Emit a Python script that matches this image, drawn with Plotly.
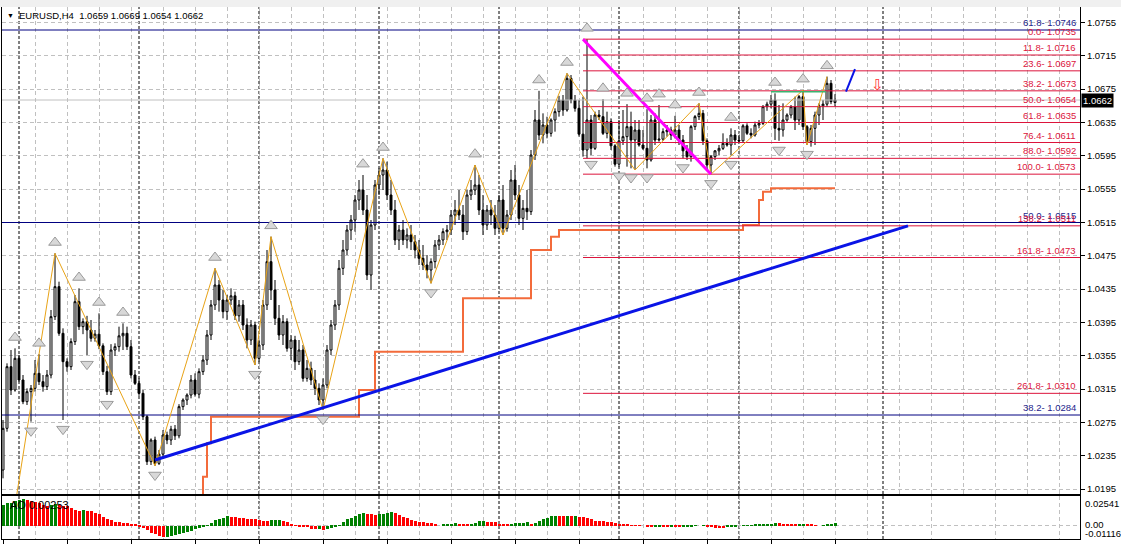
import plotly.graph_objects as go

# ---------------- data (EURUSD H4) ----------------
bars = list(range(209))
opens = [
 1.0218,1.0268,1.0342,1.0314,1.0352,1.0326,1.0300,1.0312,1.0316,1.0334,
 1.0324,1.0318,1.0332,1.0402,1.0438,1.0382,1.0348,1.0342,1.0372,1.0420,
 1.0390,1.0396,1.0386,1.0376,1.0381,1.0367,1.0336,1.0312,1.0362,1.0366,
 1.0379,1.0382,1.0366,1.0332,1.0322,1.0310,1.0282,1.0228,1.0254,1.0226,
 1.0237,1.0260,1.0254,1.0267,1.0259,1.0294,1.0302,1.0308,1.0326,1.0309,
 1.0336,1.0350,1.0380,1.0416,1.0440,1.0422,1.0408,1.0422,1.0427,1.0403,
 1.0416,1.0392,1.0374,1.0392,1.0352,1.0368,1.0416,1.0468,1.0434,1.0400,
 1.0380,1.0396,1.0364,1.0374,1.0348,1.0362,1.0328,1.0340,1.0326,1.0316,
 1.0302,1.0320,1.0362,1.0392,1.0416,1.0460,1.0482,1.0506,1.0518,1.0542,
 1.0554,1.0530,1.0452,1.0512,1.0560,1.0572,1.0578,1.0548,1.0530,1.0494,
 1.0506,1.0494,1.0500,1.0492,1.0482,1.0472,1.0464,1.0458,1.0468,1.0488,
 1.0494,1.0504,1.0506,1.0524,1.0530,1.0524,1.0504,1.0548,1.0554,1.0560,
 1.0530,1.0512,1.0530,1.0524,1.0508,1.0542,1.0508,1.0524,1.0566,1.0548,
 1.0520,1.0532,1.0528,1.0596,1.0638,1.0620,1.0632,1.0622,1.0638,1.0648,
 1.0662,1.0650,1.0688,1.0662,1.0652,1.0621,1.0602,1.0638,1.0604,1.0644,
 1.0642,1.0622,1.0636,1.0607,1.0585,1.0613,1.0618,1.0630,1.0614,1.0626,
 1.0608,1.0604,1.0590,1.0638,1.0614,1.0615,1.0624,1.0626,1.0620,1.0626,
 1.0614,1.0601,1.0594,1.0630,1.0642,1.0646,1.0613,1.0584,1.0594,1.0601,
 1.0604,1.0610,1.0608,1.0620,1.0614,1.0613,1.0631,1.0622,1.0620,1.0632,
 1.0634,1.0654,1.0657,1.0662,1.0628,1.0626,1.0638,1.0644,1.0654,1.0638,
 1.0666,1.0630,1.0612,1.0628,1.0644,1.0655,1.0657,1.0682,1.0659]
highs = [
 1.0278,1.0346,1.0362,1.0364,1.0356,1.0332,1.0316,1.0320,1.0350,1.0357,
 1.0332,1.0338,1.0410,1.0478,1.0444,1.0388,1.0352,1.0376,1.0428,1.0436,
 1.0400,1.0403,1.0398,1.0386,1.0406,1.0370,1.0343,1.0369,1.0370,1.0390,
 1.0394,1.0390,1.0374,1.0338,1.0328,1.0314,1.0284,1.0256,1.0258,1.0242,
 1.0266,1.0264,1.0271,1.0272,1.0297,1.0304,1.0310,1.0332,1.0334,1.0340,
 1.0356,1.0386,1.0422,1.0460,1.0446,1.0434,1.0428,1.0436,1.0432,1.0422,
 1.0422,1.0400,1.0398,1.0396,1.0374,1.0422,1.0482,1.0498,1.0446,1.0416,
 1.0404,1.0400,1.0380,1.0379,1.0374,1.0368,1.0350,1.0348,1.0338,1.0322,
 1.0328,1.0368,1.0398,1.0422,1.0470,1.0494,1.0512,1.0524,1.0548,1.0566,
 1.0572,1.0548,1.0518,1.0566,1.0580,1.0592,1.0588,1.0566,1.0542,1.0512,
 1.0518,1.0508,1.0512,1.0500,1.0494,1.0488,1.0476,1.0472,1.0494,1.0500,
 1.0508,1.0512,1.0530,1.0542,1.0554,1.0536,1.0554,1.0566,1.0584,1.0572,
 1.0548,1.0536,1.0542,1.0536,1.0548,1.0560,1.0530,1.0578,1.0584,1.0560,
 1.0542,1.0554,1.0602,1.0650,1.0673,1.0646,1.0642,1.0640,1.0652,1.0667,
 1.0668,1.0694,1.0692,1.0668,1.0662,1.0666,1.0735,1.0644,1.0648,1.0650,
 1.0663,1.0648,1.0640,1.0609,1.0638,1.0650,1.0657,1.0648,1.0638,1.0638,
 1.0626,1.0651,1.0644,1.0646,1.0656,1.0628,1.0632,1.0630,1.0643,1.0632,
 1.0620,1.0608,1.0632,1.0644,1.0658,1.0650,1.0616,1.0596,1.0602,1.0608,
 1.0622,1.0616,1.0628,1.0626,1.0620,1.0633,1.0634,1.0628,1.0636,1.0638,
 1.0656,1.0660,1.0668,1.0670,1.0656,1.0658,1.0646,1.0656,1.0666,1.0668,
 1.0674,1.0632,1.0632,1.0648,1.0658,1.0662,1.0690,1.0686,1.0669]
lows = [
 1.0208,1.0264,1.0308,1.0312,1.0324,1.0297,1.0296,1.0276,1.0312,1.0320,
 1.0312,1.0314,1.0328,1.0398,1.0379,1.0278,1.0336,1.0338,1.0368,1.0386,
 1.0381,1.0356,1.0372,1.0372,1.0363,1.0332,1.0308,1.0308,1.0355,1.0360,
 1.0362,1.0362,1.0328,1.0320,1.0307,1.0278,1.0224,1.0224,1.0223,1.0224,
 1.0232,1.0249,1.0248,1.0254,1.0256,1.0290,1.0296,1.0304,1.0306,1.0304,
 1.0332,1.0344,1.0374,1.0410,1.0408,1.0400,1.0398,1.0416,1.0398,1.0396,
 1.0386,1.0364,1.0368,1.0344,1.0348,1.0362,1.0410,1.0422,1.0392,1.0374,
 1.0368,1.0360,1.0350,1.0338,1.0344,1.0324,1.0324,1.0320,1.0308,1.0296,
 1.0290,1.0316,1.0356,1.0386,1.0410,1.0452,1.0476,1.0494,1.0504,1.0530,
 1.0524,1.0446,1.0434,1.0506,1.0548,1.0554,1.0542,1.0524,1.0488,1.0482,
 1.0488,1.0484,1.0482,1.0472,1.0464,1.0458,1.0448,1.0442,1.0460,1.0482,
 1.0488,1.0494,1.0500,1.0512,1.0518,1.0494,1.0500,1.0542,1.0548,1.0524,
 1.0500,1.0506,1.0512,1.0500,1.0504,1.0500,1.0504,1.0518,1.0542,1.0512,
 1.0506,1.0518,1.0524,1.0590,1.0614,1.0610,1.0616,1.0618,1.0624,1.0642,
 1.0643,1.0648,1.0658,1.0648,1.0618,1.0594,1.0592,1.0596,1.0602,1.0638,
 1.0620,1.0616,1.0602,1.0582,1.0582,1.0608,1.0582,1.0580,1.0578,1.0606,
 1.0602,1.0580,1.0588,1.0608,1.0612,1.0613,1.0618,1.0614,1.0616,1.0608,
 1.0592,1.0590,1.0588,1.0626,1.0638,1.0608,1.0578,1.0573,1.0590,1.0596,
 1.0602,1.0606,1.0596,1.0608,1.0610,1.0612,1.0620,1.0616,1.0618,1.0628,
 1.0632,1.0649,1.0652,1.0614,1.0613,1.0618,1.0636,1.0640,1.0626,1.0632,
 1.0626,1.0608,1.0606,1.0608,1.0632,1.0638,1.0654,1.0657,1.0654]
closes = [
 1.0268,1.0342,1.0314,1.0352,1.0326,1.0300,1.0312,1.0316,1.0334,1.0324,
 1.0318,1.0332,1.0402,1.0438,1.0382,1.0348,1.0342,1.0372,1.0420,1.0390,
 1.0396,1.0386,1.0376,1.0381,1.0367,1.0336,1.0312,1.0362,1.0366,1.0379,
 1.0382,1.0366,1.0332,1.0322,1.0310,1.0282,1.0228,1.0254,1.0226,1.0237,
 1.0260,1.0254,1.0267,1.0259,1.0294,1.0302,1.0308,1.0326,1.0309,1.0336,
 1.0350,1.0380,1.0416,1.0440,1.0422,1.0408,1.0422,1.0427,1.0403,1.0416,
 1.0392,1.0374,1.0392,1.0352,1.0368,1.0416,1.0468,1.0434,1.0400,1.0380,
 1.0396,1.0364,1.0374,1.0348,1.0362,1.0328,1.0340,1.0326,1.0316,1.0302,
 1.0320,1.0362,1.0392,1.0416,1.0460,1.0482,1.0506,1.0518,1.0542,1.0554,
 1.0530,1.0452,1.0512,1.0560,1.0572,1.0578,1.0548,1.0530,1.0494,1.0506,
 1.0494,1.0500,1.0492,1.0482,1.0472,1.0464,1.0458,1.0468,1.0488,1.0494,
 1.0504,1.0506,1.0524,1.0530,1.0524,1.0504,1.0548,1.0554,1.0560,1.0530,
 1.0512,1.0530,1.0524,1.0508,1.0542,1.0508,1.0524,1.0566,1.0548,1.0520,
 1.0532,1.0528,1.0596,1.0638,1.0620,1.0632,1.0622,1.0638,1.0648,1.0662,
 1.0650,1.0688,1.0662,1.0652,1.0621,1.0602,1.0638,1.0604,1.0644,1.0642,
 1.0622,1.0636,1.0607,1.0585,1.0613,1.0618,1.0630,1.0614,1.0626,1.0608,
 1.0604,1.0590,1.0638,1.0614,1.0615,1.0624,1.0626,1.0620,1.0626,1.0614,
 1.0601,1.0594,1.0630,1.0642,1.0646,1.0613,1.0584,1.0594,1.0601,1.0604,
 1.0610,1.0608,1.0620,1.0614,1.0613,1.0631,1.0622,1.0620,1.0632,1.0634,
 1.0654,1.0657,1.0662,1.0628,1.0626,1.0638,1.0644,1.0654,1.0638,1.0666,
 1.0630,1.0612,1.0628,1.0644,1.0655,1.0657,1.0682,1.0660,1.0662]

ao_values = [
 0.0178,0.0193,0.0198,0.0213,0.0221,0.0229,0.0221,0.0213,0.0207,0.0193,
 0.0178,0.0173,0.0178,0.0187,0.0178,0.0173,0.0170,0.0156,0.0136,0.0130,
 0.0136,0.0127,0.0125,0.0113,0.0102,0.0079,0.0062,0.0051,0.0037,0.0031,
 0.0028,0.0025,0.0020,0.0011,-0.0006,-0.0020,-0.0034,-0.0057,-0.0071,-0.0085,
 -0.0096,-0.0091,-0.0085,-0.0076,-0.0071,-0.0062,-0.0051,-0.0042,-0.0028,-0.0014,
 -0.0006,0.0006,0.0025,0.0051,0.0062,0.0071,0.0085,0.0079,0.0076,0.0071,
 0.0068,0.0062,0.0059,0.0057,0.0051,0.0045,0.0042,0.0048,0.0051,0.0054,
 0.0042,0.0037,0.0011,0.0006,-0.0006,-0.0008,-0.0011,-0.0023,-0.0028,-0.0025,
 -0.0031,-0.0023,-0.0014,-0.0006,0.0006,0.0034,0.0057,0.0065,0.0085,0.0099,
 0.0110,0.0102,0.0099,0.0093,0.0099,0.0102,0.0108,0.0119,0.0108,0.0093,
 0.0079,0.0065,0.0051,0.0042,0.0037,0.0034,0.0028,0.0023,0.0014,0.0000,
 0.0008,0.0011,0.0020,0.0021,0.0011,0.0010,0.0008,0.0017,0.0028,0.0040,
 0.0045,0.0037,0.0036,0.0034,0.0017,0.0011,0.0010,0.0020,0.0021,0.0025,
 0.0028,0.0030,0.0020,0.0028,0.0045,0.0057,0.0071,0.0085,0.0088,0.0085,
 0.0084,0.0088,0.0085,0.0086,0.0079,0.0074,0.0065,0.0059,0.0045,0.0044,
 0.0043,0.0037,0.0034,0.0028,0.0020,0.0014,0.0011,0.0003,0.0001,-0.0001,
 0.0000,-0.0006,-0.0007,-0.0006,-0.0004,-0.0006,-0.0007,-0.0006,-0.0007,-0.0008,
 -0.0006,-0.0004,-0.0003,-0.0001,0.0000,0.0001,-0.0006,-0.0008,-0.0014,-0.0017,
 -0.0018,-0.0011,-0.0006,-0.0003,0.0000,0.0001,0.0003,0.0006,0.0008,0.0010,
 0.0011,0.0014,0.0017,0.0023,0.0021,0.0020,0.0017,0.0014,0.0013,0.0014,
 0.0016,0.0011,0.0008,0.0003,0.0000,0.0006,0.0011,0.0017,0.00253]

zigzag_bars = [3, 13, 38, 53, 63, 67, 80, 95, 107, 118, 125, 141, 158, 174, 177, 200, 201, 206]
zigzag_prices = [1.0175, 1.0478, 1.0223, 1.0460, 1.0344, 1.0498, 1.0290, 1.0592, 1.0442,
                 1.0584, 1.0500, 1.0694, 1.0578, 1.0658, 1.0573, 1.0674, 1.0608, 1.0690]

fractal_up_bars = [3, 9, 13, 19, 24, 30, 53, 67, 90, 95, 118, 134, 141, 146, 150, 156,
                   161, 164, 168, 174, 182, 193, 200, 206]
fractal_down_bars = [7, 15, 21, 26, 38, 63, 80, 107, 147, 154, 157, 161, 170, 177, 182, 194, 201]

stop_bars = [49, 50, 51, 52, 89, 93, 115, 132, 137, 139, 185, 189, 190, 192, 208]
stop_levels = [1.0150, 1.0210, 1.0250, 1.0282, 1.0314, 1.0360, 1.0424, 1.0482, 1.0498,
               1.0506, 1.0512, 1.0542, 1.0552, 1.0556, 1.0556]

fib_ratios = ["0.0", "11.8", "23.6", "38.2", "50.0", "61.8", "76.4", "88.0", "100.0",
              "138.2", "161.8", "261.8"]
fib_prices = [1.0735, 1.0716, 1.0697, 1.0673, 1.0654, 1.0635, 1.0611, 1.0592, 1.0573,
              1.0511, 1.0473, 1.0310]
fib_start_bar = 145

navy_ratios = ["61.8", "50.0", "38.2"]
navy_prices = [1.0746, 1.0515, 1.0284]

trend_bars = [38, 226.25]
trend_prices = [1.0230, 1.0511]
fib_base_bars = [145, 177]
fib_base_prices = [1.0735, 1.0573]
forecast_bars = [210.75, 213]
forecast_prices = [1.0672, 1.0699]
green_bars = [192, 205.75]
green_prices = [1.0672, 1.0672]
arrow_bar, arrow_price = 218.5, 1.0681

separator_bars = [4, 34, 64, 94, 124, 154, 184, 220]
date_label_bars = list(range(0, 209, 16))
date_labels = ["11 Nov 2022", "16 Nov 00:00", "18 Nov 16:00", "23 Nov 08:00", "28 Nov 00:00",
               "30 Nov 16:00", "5 Dec 08:00", "8 Dec 00:00", "12 Dec 16:00", "15 Dec 08:00",
               "20 Dec 00:00", "22 Dec 16:00", "27 Dec 08:00", "30 Dec 00:00"]
price_ticks = [1.0195, 1.0235, 1.0275, 1.0315, 1.0355, 1.0395, 1.0435, 1.0475,
               1.0515, 1.0555, 1.0595, 1.0635, 1.0675, 1.0715, 1.0755]
bid_price = 1.0662
title_text = "EURUSD,H4  1.0659 1.0669 1.0654 1.0662"
ao_label = "AO 0.00253"
ao_max, ao_min = 0.02541, -0.01116

# ---------------- layout constants ----------------
X_LEFT, X_RIGHT = -0.25, 269.25
Y_LOW, Y_HIGH = 1.01892, 1.07736
H_PLOT = 532.0
MAIN_BOTTOM = 45 / H_PLOT
AO_TOP = 43 / H_PLOT
GRID = '#C0C0C0'
CRIMSON = '#DC143C'
NAVY = '#000080'
FONT = 'Liberation Sans, Arial, sans-serif'

def px_to_paper(py):
    return (539 - py) / H_PLOT

fig = go.Figure()

# bid line
fig.add_trace(go.Scatter(x=[X_LEFT, X_RIGHT], y=[bid_price, bid_price], mode='lines',
                         line=dict(color='#C0C0C0', width=1), hoverinfo='skip'))

# coral stop line
fig.add_trace(go.Scatter(x=stop_bars, y=stop_levels, mode='lines', line_shape='hv',
                         line=dict(color='#F36B3B', width=2), hoverinfo='skip'))

# navy fib levels
for p in navy_prices:
    fig.add_trace(go.Scatter(x=[X_LEFT, X_RIGHT], y=[p, p], mode='lines',
                             line=dict(color=NAVY, width=1), hoverinfo='skip'))
# crimson fib levels
for p in fib_prices:
    fig.add_trace(go.Scatter(x=[fib_start_bar, X_RIGHT], y=[p, p], mode='lines',
                             line=dict(color=CRIMSON, width=1), hoverinfo='skip'))

# candles
fig.add_trace(go.Candlestick(
    x=bars, open=opens, high=highs, low=lows, close=closes,
    increasing=dict(line=dict(color='black', width=1), fillcolor='white'),
    decreasing=dict(line=dict(color='black', width=1), fillcolor='black'),
    whiskerwidth=0, hoverinfo='skip'))

# zigzag
fig.add_trace(go.Scatter(x=zigzag_bars, y=zigzag_prices, mode='lines',
                         line=dict(color='#E8A317', width=1), hoverinfo='skip'))

# trend line, fib base, forecast, green line
fig.add_trace(go.Scatter(x=trend_bars, y=trend_prices, mode='lines',
                         line=dict(color='#0A14E6', width=3), hoverinfo='skip'))
fig.add_trace(go.Scatter(x=fib_base_bars, y=fib_base_prices, mode='lines',
                         line=dict(color='#FF00FF', width=3), hoverinfo='skip'))
fig.add_trace(go.Scatter(x=forecast_bars, y=forecast_prices, mode='lines',
                         line=dict(color='#0A14E6', width=2), hoverinfo='skip'))
fig.add_trace(go.Scatter(x=green_bars, y=green_prices, mode='lines',
                         line=dict(color='#3CB371', width=1.5), hoverinfo='skip'))

# fractals
fig.add_trace(go.Scatter(x=fractal_up_bars, y=[highs[b] + 0.0013 for b in fractal_up_bars],
                         mode='markers', marker=dict(symbol='triangle-up', size=11, color='#D8D8D8',
                         line=dict(color='#9A9A9A', width=1)), hoverinfo='skip'))
fig.add_trace(go.Scatter(x=fractal_down_bars, y=[lows[b] - 0.0011 for b in fractal_down_bars],
                         mode='markers', marker=dict(symbol='triangle-down', size=11, color='#D8D8D8',
                         line=dict(color='#9A9A9A', width=1)), hoverinfo='skip'))

# AO histogram
ao_colors = ['#008000'] + ['#008000' if ao_values[i] > ao_values[i - 1] else '#FF0000'
                           for i in range(1, len(ao_values))]
fig.add_trace(go.Bar(x=bars, y=ao_values, marker=dict(color=ao_colors, line=dict(width=0)),
                     width=0.75, xaxis='x2', yaxis='y2', hoverinfo='skip'))

# ---------------- shapes ----------------
shapes = []
for b in separator_bars:
    shapes.append(dict(type='line', xref='x', yref='paper', x0=b, x1=b, y0=0, y1=1,
                       line=dict(color='black', width=1, dash='3px,2px'), layer='below'))
shapes.append(dict(type='rect', xref='paper', yref='paper', x0=-0.01, x1=1.05, y0=1,
                   y1=1 + 7 / H_PLOT, fillcolor='#F0F0F0', line=dict(width=0)))

# ---------------- annotations ----------------
ann = []
ann.append(dict(xref='paper', yref='paper', x=0, y=px_to_paper(16), xshift=3, xanchor='left',
                yanchor='middle', text='▼', showarrow=False, font=dict(size=7, color='black')))
ann.append(dict(xref='paper', yref='paper', x=0, y=px_to_paper(16), xshift=15, xanchor='left',
                yanchor='middle', text=title_text, showarrow=False,
                font=dict(size=9.5, color='black', family=FONT)))
for r, p in zip(navy_ratios, navy_prices):
    ann.append(dict(xref='paper', yref='y', x=1, y=p, xshift=-2, xanchor='right', yanchor='bottom',
                    text=f"{r}- {p:.4f}", showarrow=False,
                    font=dict(size=9.5, color='#1E1E8C', family=FONT)))
for r, p in zip(fib_ratios, fib_prices):
    ann.append(dict(xref='paper', yref='y', x=1, y=p, xshift=-2, xanchor='right', yanchor='bottom',
                    text=f"{r}- {p:.4f}", showarrow=False,
                    font=dict(size=9.5, color=CRIMSON, family=FONT)))
ann.append(dict(xref='paper', yref='y', x=1, y=bid_price, xshift=1, xanchor='left', yanchor='middle',
                text=f"{bid_price:.4f}", showarrow=False, bgcolor='black', borderpad=1,
                font=dict(size=9.5, color='white', family=FONT)))
ann.append(dict(xref='x', yref='y', x=arrow_bar, y=arrow_price, text='⇩', showarrow=False,
                font=dict(size=15, color='#FF3030')))
ann.append(dict(xref='paper', yref='paper', x=0, y=px_to_paper(505), xshift=6, xanchor='left',
                yanchor='middle', text=ao_label, showarrow=False,
                font=dict(size=11, color='black', family=FONT)))
for txt, py in [(f"{ao_max:.5f}", 503), ("0.00", 524), (f"{ao_min:.5f}", 533)]:
    ann.append(dict(xref='paper', yref='paper', x=1, y=px_to_paper(py), xshift=3, xanchor='left',
                    yanchor='middle', text=txt, showarrow=False,
                    font=dict(size=9.5, color='black', family=FONT)))
for b, t in zip(date_label_bars, date_labels):
    ann.append(dict(xref='x2', yref='paper', x=b, y=px_to_paper(543), xshift=2, xanchor='left',
                    yanchor='top', text=t, showarrow=False,
                    font=dict(size=9.5, color='black', family=FONT)))

grid_kw = dict(showgrid=True, gridcolor=GRID, griddash='4px,3px', gridwidth=1)
line_kw = dict(showline=True, mirror=True, linecolor='black', linewidth=1, zeroline=False)

fig.update_layout(
    width=1121, height=547,
    margin=dict(l=2, r=41, t=7, b=8),
    paper_bgcolor='white', plot_bgcolor='white',
    showlegend=False, hovermode=False,
    font=dict(family=FONT, size=10, color='black'),
    shapes=shapes, annotations=ann,
    xaxis=dict(domain=[0, 1], range=[X_LEFT, X_RIGHT], anchor='y', showticklabels=False,
               ticks='', tickvals=list(range(0, 270, 8)), rangeslider=dict(visible=False),
               **grid_kw, **line_kw),
    yaxis=dict(domain=[MAIN_BOTTOM, 1], range=[Y_LOW, Y_HIGH], anchor='x', side='right',
               tickvals=price_ticks, ticktext=[f"{p:.4f}" for p in price_ticks],
               ticks='outside', ticklen=4, tickcolor='black',
               tickfont=dict(size=9.5, family=FONT), **grid_kw, **line_kw),
    xaxis2=dict(domain=[0, 1], range=[X_LEFT, X_RIGHT], anchor='y2', showticklabels=False,
                tickvals=date_label_bars, ticks='outside', ticklen=4, tickcolor='black',
                minor=dict(tickvals=list(range(8, 270, 16)), showgrid=True, gridcolor=GRID,
                           griddash='4px,3px', ticks=''),
                **grid_kw, **line_kw),
    yaxis2=dict(domain=[0, AO_TOP], range=[ao_min, ao_max], anchor='x2', side='right',
                tickvals=[0], showticklabels=False, ticks='', **grid_kw, **line_kw),
    bargap=0,
)

fig.write_html("out.html", config={'displayModeBar': False},
               post_script="document.body.style.margin='0px';document.body.style.overflow='hidden';")
